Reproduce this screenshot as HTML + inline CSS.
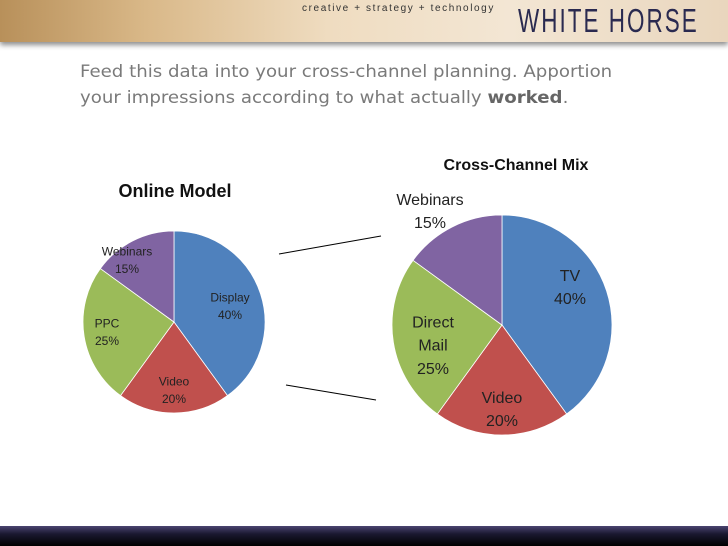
<!DOCTYPE html>
<html><head><meta charset="utf-8"><style>
body{margin:0;width:728px;height:546px;overflow:hidden;background:#fff;font-family:"Liberation Sans",sans-serif;position:relative}
#hdr{position:absolute;left:0;top:0;width:728px;height:42px;background:linear-gradient(90deg,#b8905a 0%,#d9b888 20%,#efdcc0 45%,#f3e6d4 70%,#e9d6bd 100%);box-shadow:0 3px 5px rgba(0,0,0,.45)}
#tag{position:absolute;left:302px;top:3px;font-size:10px;letter-spacing:1.6px;color:#333;white-space:nowrap}
#brand{position:absolute;left:518px;top:2px;font-size:33px;letter-spacing:3px;color:#2a2a50;transform:scaleX(.68);transform-origin:left;white-space:nowrap}
#txt{position:absolute;left:80px;top:59px;font-family:"DejaVu Sans",sans-serif;font-size:17px;line-height:26px;color:#7a7a7a;white-space:nowrap;transform:scaleX(1.068);transform-origin:left}
#foot{position:absolute;left:0;top:526px;width:728px;height:20px;background:linear-gradient(#4a4470,#1a1830 40%,#000)}
</style></head><body>
<div id="hdr">
<div id="tag">creative + strategy + technology</div>
<div id="brand">WHITE HORSE</div></div>
<div id="txt">Feed this data into your cross-channel planning. Apportion<br>your impressions according to what actually <b style="color:#666">worked</b>.</div>
<svg id="c" width="728" height="546" style="position:absolute;left:0;top:0"></svg>
<div id="foot"></div>
<script>
const leftLabels=["Display","Video","PPC","Webinars"];
const leftValues=[40,20,25,15];
const rightLabels=["TV","Video","Direct Mail","Webinars"];
const rightValues=[40,20,25,15];
const colors=["#4F81BD","#C0504D","#9BBB59","#8064A2"];
const NS="http://www.w3.org/2000/svg";
const svg=document.getElementById('c');
function mk(t,a){const e=document.createElementNS(NS,t);for(const k in a)e.setAttribute(k,a[k]);svg.appendChild(e);return e;}
function pie(name,cx,cy,r,labels,values,fs,offs){
  const tot=values.reduce((a,b)=>a+b,0);let a0=0;
  values.forEach((v,i)=>{
    const a1=a0+v/tot*2*Math.PI;
    const x0=cx+r*Math.sin(a0),y0=cy-r*Math.cos(a0),x1=cx+r*Math.sin(a1),y1=cy-r*Math.cos(a1);
    const p=mk('path',{d:`M${cx},${cy}L${x0},${y0}A${r},${r} 0 ${a1-a0>Math.PI?1:0} 1 ${x1},${y1}Z`,fill:colors[i],stroke:'#fff','stroke-width':0.8});
    
    
    const lx=cx+offs[i][0],ly=cy+offs[i][1];
    const lines=labels[i].split(' ').concat([v+'%']);
    const lh=fs*1.45;
    const t=mk('text',{x:lx,y:ly-(lines.length-1)*lh/2+fs*0.35,'font-size':fs,'text-anchor':'middle',fill:'#222','font-family':'Liberation Sans, sans-serif'});
    
    
    lines.forEach((s,j)=>{const ts=document.createElementNS(NS,'tspan');ts.setAttribute('x',lx);ts.setAttribute('dy',j?lh:0);ts.textContent=s;t.appendChild(ts);});
    a0=a1;
  });
}
pie('online',174,322,91,leftLabels,leftValues,12,[[56,-16],[0,68],[-67,10],[-47,-62]]);
pie('cross',502,325,110,rightLabels,rightValues,16,[[68,-38],[0,84],[-69,20],[-72,-114]]);
let t=mk('text',{x:175,y:197,'font-size':18,'font-weight':'bold','text-anchor':'middle',fill:'#111'});t.textContent='Online Model';


t=mk('text',{x:516,y:170,'font-size':16,'font-weight':'bold','text-anchor':'middle',fill:'#111'});t.textContent='Cross-Channel Mix';


let l=mk('line',{x1:279,y1:254,x2:381,y2:236,stroke:'#000','stroke-width':1});


l=mk('line',{x1:286,y1:385,x2:376,y2:400,stroke:'#000','stroke-width':1});


</script>
</body></html>
